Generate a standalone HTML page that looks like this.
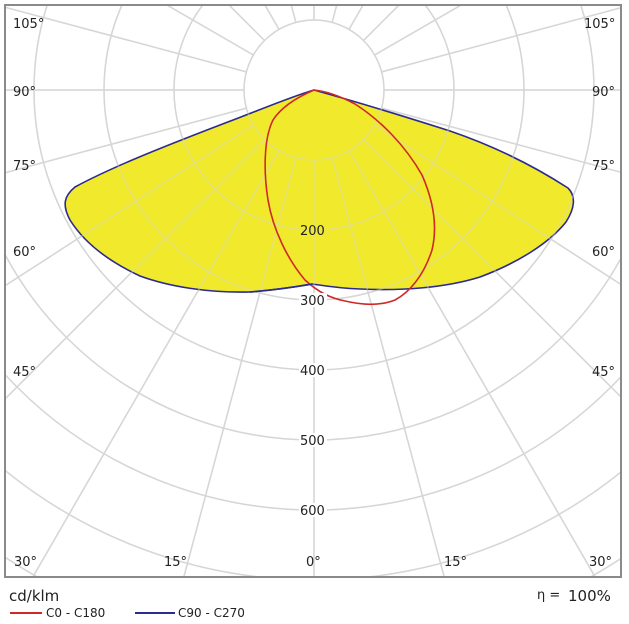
<!DOCTYPE html>
<html><head><style>
html,body{margin:0;padding:0;background:#fff;width:629px;height:624px;overflow:hidden}
svg{display:block;overflow:hidden}
text{font-family:"DejaVu Sans","Liberation Sans",sans-serif;fill:#222}
</style></head><body>
<svg width="629" height="624" viewBox="0 0 629 624" xmlns="http://www.w3.org/2000/svg">
<defs><clipPath id="c"><rect x="6" y="6" width="614" height="570"/></clipPath></defs>
<g clip-path="url(#c)">
<g id="grid" fill="none" stroke="#d6d6d6" stroke-width="1.5">
<circle cx="314" cy="90" r="70"/><circle cx="314" cy="90" r="140"/><circle cx="314" cy="90" r="210"/>
<circle cx="314" cy="90" r="280"/><circle cx="314" cy="90" r="350"/><circle cx="314" cy="90" r="420"/>
<circle cx="314" cy="90" r="490"/><circle cx="314" cy="90" r="560"/><circle cx="314" cy="90" r="630"/>
<path d="M314,160L314,700 M332.1,157.6L488,741 M295.9,157.6L140,741 M349,150.6L650,672 M279,150.6L-22,672 M363.5,139.5L791,567 M264.5,139.5L-163,567 M374.6,125L872,447 M253.4,125L-244,447 M381.6,108.1L900,247 M246.4,108.1L-272,247 M384,90L954,90 M244,90L-326,90 M381.6,71.9L900,-67 M246.4,71.9L-272,-67 M374.6,55L700,-133 M253.4,55L-72,-133 M363.5,40.5L540,-136 M264.5,40.5L88,-136 M349,29.4L430,-111 M279,29.4L198,-111 M332.1,22.4L360,-82 M295.9,22.4L268,-82 M314,20L314,-80"/>
</g>
<path fill="#f0e92c" stroke="#2a2a90" stroke-width="1.6" d="M314,90 C350,100 400,115 450,131 C500,148 540,170 568,188 C576,196 575,208 566,222 C550,242 520,262 480,277 C445,288 400,291 360,289 C335,288 320,285 312,284 C300,286 285,289 250,292 C210,293 170,287 140,276 C110,262 85,244 70,220 C62,205 64,196 75,187 C110,168 160,148 220,125 C260,110 290,97 314,90Z"/>
<g fill="none" stroke="#fff" stroke-opacity="0.45" stroke-width="1.2">
<use href="#grid"/>
</g>
<path fill="none" stroke="#d02828" stroke-width="1.6" d="M314,90 C300,96 282,106 273,120 C263,140 264,175 268,200 C273,230 288,260 305,280 C318,292 330,298 345,301 C362,305 380,306 395,300 C410,292 424,275 432,250 C438,225 433,200 422,175 C405,145 380,120 355,104 C338,95 325,91 314,90Z"/>
<path fill="none" stroke="#2a2a90" stroke-width="1.6" d="M312,284 C300,286 285,289 250,292"/>
</g>
<rect x="5" y="5" width="616" height="572" fill="none" stroke="#8a8a8a" stroke-width="2"/>
<g font-size="13">
<text x="300" y="235">200</text>
<rect x="299" y="293" width="28" height="14" fill="#fff"/><text x="300" y="305">300</text>
<rect x="299" y="363" width="28" height="14" fill="#fff"/><text x="300" y="375">400</text>
<rect x="299" y="433" width="28" height="14" fill="#fff"/><text x="300" y="445">500</text>
<rect x="299" y="503" width="28" height="14" fill="#fff"/><text x="300" y="515">600</text>
<text x="13" y="28">105°</text><text x="584" y="28">105°</text>
<text x="13" y="96">90°</text><text x="592" y="96">90°</text>
<text x="13" y="170">75°</text><text x="592" y="170">75°</text>
<text x="13" y="256">60°</text><text x="592" y="256">60°</text>
<text x="13" y="376">45°</text><text x="592" y="376">45°</text>
<text x="14" y="566">30°</text><text x="589" y="566">30°</text>
<text x="164" y="566">15°</text><text x="444" y="566">15°</text>
<text x="306" y="566">0°</text>
</g>
<text x="9" y="601" font-size="15">cd/klm</text>
<text x="537" y="599" font-size="13">η =</text><text x="568" y="601" font-size="15">100%</text>
<line x1="10" y1="613" x2="42" y2="613" stroke="#d02828" stroke-width="2"/>
<text x="46" y="617" font-size="12">C0 - C180</text>
<line x1="135" y1="613" x2="175" y2="613" stroke="#2a2a90" stroke-width="2"/>
<text x="178" y="617" font-size="12">C90 - C270</text>
</svg>
</body></html>
